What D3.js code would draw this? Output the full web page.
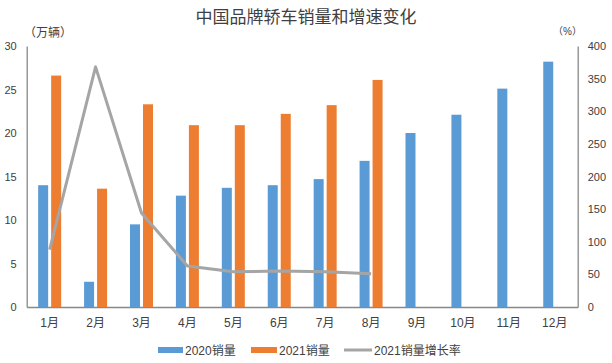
<!DOCTYPE html>
<html><head><meta charset="utf-8">
<script src="https://cdn.jsdelivr.net/npm/d3@7"></script>
<style>body{margin:0;background:#fff}svg{display:block}text{font-family:"Liberation Sans","Noto Sans CJK SC",sans-serif;fill:#404040}</style>
</head><body><div id="c"></div>
<script>
const months = ["1月","2月","3月","4月","5月","6月","7月","8月","9月","10月","11月","12月"];
const sales2020 = [14.0,2.9,9.5,12.8,13.7,14.0,14.7,16.8,20.0,22.1,25.1,28.2];
const sales2021 = [26.6,13.6,23.3,20.9,20.9,22.2,23.2,26.1];
const growth2021 = [88,368,144,63,54,55,54,51];
const leftTicks = [0,5,10,15,20,25,30];
const rightTicks = [0,50,100,150,200,250,300,350,400];
const title = "中国品牌轿车销量和增速变化";
const seriesNames = ["2020销量","2021销量","2021销量增长率"];
const colors = ["#5B9BD5","#ED7D31","#A5A5A5"];

const W=612,H=363, L=26.7, R=577.7, T=46, B=307;
const svg=d3.select("#c").append("svg").attr("width",W).attr("height",H);
const x=d3.scaleBand().domain(months).range([L,R]);
const yL=d3.scaleLinear().domain([0,30]).range([B,T]);
const yR=d3.scaleLinear().domain([0,400]).range([B,T]);

svg.append("text").attr("x",306).attr("y",23).attr("text-anchor","middle")
  .style("font-size","17px").style("font-family","'Noto Sans CJK SC',sans-serif").text(title);

// axes
const axL=svg.append("g").attr("transform",`translate(${L},0)`)
  .call(d3.axisLeft(yL).tickValues(leftTicks).tickSize(0).tickPadding(10));
const axR=svg.append("g").attr("transform",`translate(${R},0)`)
  .call(d3.axisRight(yR).tickValues(rightTicks).tickSize(0).tickPadding(10));
const axB=svg.append("g").attr("transform",`translate(0,${B})`)
  .call(d3.axisBottom(x).tickSize(0).tickPadding(11));
[axL,axR,axB].forEach(g=>{g.select(".domain").attr("stroke","#888").attr("stroke-width",1.3);
  g.selectAll("text").style("font-size","11px").attr("fill","#404040");});
axB.selectAll("text").style("font-size","12px");

svg.append("text").attr("x",24).attr("y",37).style("font-size","12px").text("（万辆）");
svg.append("text").attr("x",553).attr("y",35).style("font-size","10px").text("（%）");

const bw=10, gap=3;
svg.append("g").selectAll("rect").data(sales2020).join("rect")
  .attr("x",(d,i)=>x(months[i])+x.bandwidth()/2-bw-gap/2).attr("width",bw)
  .attr("y",d=>yL(d)).attr("height",d=>B-yL(d)).attr("fill",colors[0]);
svg.append("g").selectAll("rect").data(sales2021).join("rect")
  .attr("x",(d,i)=>x(months[i])+x.bandwidth()/2+gap/2).attr("width",bw)
  .attr("y",d=>yL(d)).attr("height",d=>B-yL(d)).attr("fill",colors[1]);

const line=d3.line().x((d,i)=>x(months[i])+x.bandwidth()/2).y(d=>yR(d));
svg.append("path").datum(growth2021).attr("d",line).attr("fill","none")
  .attr("stroke",colors[2]).attr("stroke-width",3).attr("stroke-linejoin","round");

// legend
const lg=[{x:158,w:25},{x:251,w:26},{x:344,w:28}];
seriesNames.forEach((n,i)=>{
  const g=svg.append("g");
  if(i<2) g.append("rect").attr("x",lg[i].x).attr("y",347).attr("width",lg[i].w).attr("height",6).attr("fill",colors[i]);
  else g.append("line").attr("x1",lg[i].x).attr("x2",lg[i].x+lg[i].w).attr("y1",350).attr("y2",350).attr("stroke",colors[i]).attr("stroke-width",3);
  g.append("text").attr("x",lg[i].x+lg[i].w+2).attr("y",354.5).style("font-size","12px").text(n);
});
</script></body></html>
